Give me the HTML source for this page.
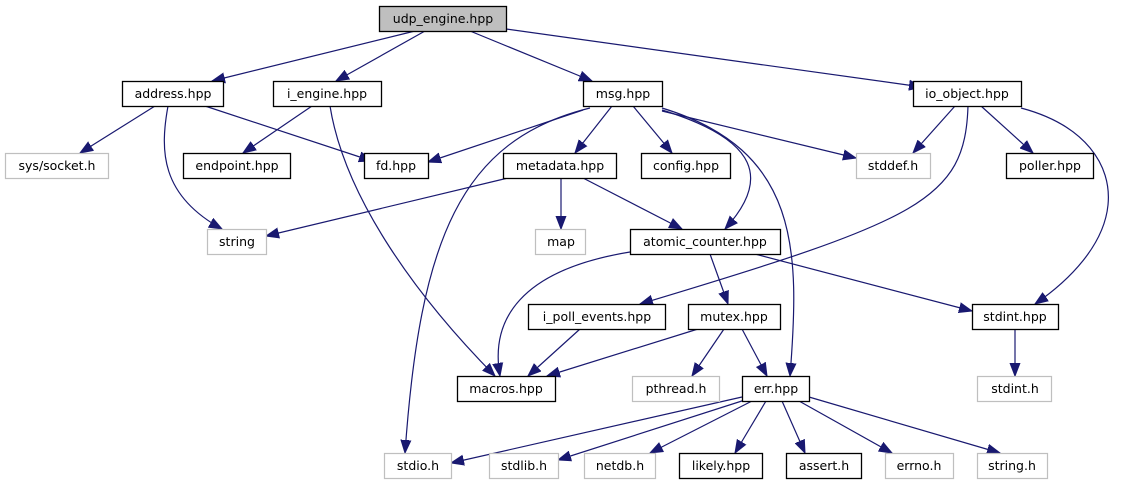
<!DOCTYPE html>
<html><head><meta charset="utf-8"><style>
html,body{margin:0;padding:0;background:#fff;}
svg{display:block;}
text{font-family:"DejaVu Sans","Liberation Sans",sans-serif;font-size:12.5px;fill:#000;}
.e{fill:none;stroke:#191970;stroke-width:1.2;marker-end:url(#a);}
.b{fill:#fff;stroke:#000;stroke-width:1.3;}
.g{fill:#fff;stroke:#bfbfbf;stroke-width:1.2;}
</style></head><body>
<svg width="1121" height="485" viewBox="0 0 1121 485" xmlns="http://www.w3.org/2000/svg">
<defs><marker id="a" markerUnits="userSpaceOnUse" markerWidth="14" markerHeight="12" refX="13" refY="6" orient="auto"><path d="M0,1 L13,6 L0,11 Z" fill="#191970" stroke="#191970"/></marker></defs>
<g>
<path class="e" d="M415,31 L212,81"/>
<path class="e" d="M425,31 L336,81"/>
<path class="e" d="M470,31 L592,81"/>
<path class="e" d="M506,29 L922,87"/>
<path class="e" d="M155,106 L80,153"/>
<path class="e" d="M168,106 C160,150 160,195 222,229"/>
<path class="e" d="M205,106 L372,161"/>
<path class="e" d="M312,106 L243,153"/>
<path class="e" d="M330,106 C345,200 420,300 495,376"/>
<path class="e" d="M583,110 L428,162"/>
<path class="e" d="M590,108 C460,140 420,240 405,453"/>
<path class="e" d="M612,106 L575,153"/>
<path class="e" d="M633,106 L672,153"/>
<path class="e" d="M662,111 L856,158"/>
<path class="e" d="M662,110 C760,140 770,180 725,229"/>
<path class="e" d="M662,108 C800,150 800,250 790,376"/>
<path class="e" d="M508,178 L266,236"/>
<path class="e" d="M561,178 L561,229"/>
<path class="e" d="M583,178 L682,229"/>
<path class="e" d="M955,106 L913,153"/>
<path class="e" d="M981,106 L1033,153"/>
<path class="e" d="M968,106 C965,200 920,220 640,304"/>
<path class="e" d="M1021,108 C1085,125 1112,165 1108,205 C1104,245 1070,280 1035,304"/>
<path class="e" d="M630,252 C520,270 490,320 500,376"/>
<path class="e" d="M710,254 L728,304"/>
<path class="e" d="M755,254 L972,311"/>
<path class="e" d="M580,329 L528,376"/>
<path class="e" d="M698,329 L547,376"/>
<path class="e" d="M724,329 L692,376"/>
<path class="e" d="M742,329 L767,376"/>
<path class="e" d="M1015,329 L1015,376"/>
<path class="e" d="M742,397 L451,463"/>
<path class="e" d="M745,400 L558,460"/>
<path class="e" d="M752,401 L650,453"/>
<path class="e" d="M766,401 L735,453"/>
<path class="e" d="M782,401 L805,453"/>
<path class="e" d="M799,401 L892,453"/>
<path class="e" d="M809,397 L1000,453"/>
</g>
<g text-anchor="middle">
<rect x="379.5" y="6.5" width="127" height="25" fill="#bfbfbf" stroke="#000" stroke-width="1.3"/><text x="443" y="23">udp_engine.hpp</text>
<rect class="b" x="122.5" y="81.5" width="101" height="25"/><text x="173" y="98">address.hpp</text>
<rect class="b" x="273.5" y="81.5" width="108" height="25"/><text x="327" y="98">i_engine.hpp</text>
<rect class="b" x="583.5" y="81.5" width="79" height="25"/><text x="623" y="98">msg.hpp</text>
<rect class="b" x="913.5" y="81.5" width="108" height="25"/><text x="967" y="98">io_object.hpp</text>
<rect class="g" x="5.5" y="153.5" width="103" height="25"/><text x="57" y="170">sys/socket.h</text>
<rect class="b" x="183.5" y="153.5" width="107" height="25"/><text x="237" y="170">endpoint.hpp</text>
<rect class="b" x="364.5" y="153.5" width="64" height="25"/><text x="396" y="170">fd.hpp</text>
<rect class="b" x="503.5" y="153.5" width="113" height="25"/><text x="560" y="170">metadata.hpp</text>
<rect class="b" x="641.5" y="153.5" width="89" height="25"/><text x="686" y="170">config.hpp</text>
<rect class="g" x="856.5" y="153.5" width="74" height="25"/><text x="893" y="170">stddef.h</text>
<rect class="b" x="1006.5" y="153.5" width="87" height="25"/><text x="1050" y="170">poller.hpp</text>
<rect class="g" x="207.5" y="229.5" width="59" height="25"/><text x="237" y="246">string</text>
<rect class="g" x="535.5" y="229.5" width="50" height="25"/><text x="561" y="246">map</text>
<rect class="b" x="630.5" y="229.5" width="150" height="25"/><text x="705" y="246">atomic_counter.hpp</text>
<rect class="b" x="528.5" y="304.5" width="137" height="25"/><text x="597" y="321">i_poll_events.hpp</text>
<rect class="b" x="688.5" y="304.5" width="92" height="25"/><text x="734" y="321">mutex.hpp</text>
<rect class="b" x="972.5" y="304.5" width="86" height="25"/><text x="1015" y="321">stdint.hpp</text>
<rect class="b" x="457.5" y="376.5" width="98" height="25"/><text x="506" y="393">macros.hpp</text>
<rect class="g" x="632.5" y="376.5" width="87" height="25"/><text x="676" y="393">pthread.h</text>
<rect class="b" x="742.5" y="376.5" width="67" height="25"/><text x="776" y="393">err.hpp</text>
<rect class="g" x="977.5" y="376.5" width="74" height="25"/><text x="1015" y="393">stdint.h</text>
<rect class="g" x="384.5" y="453.5" width="67" height="25"/><text x="418" y="470">stdio.h</text>
<rect class="g" x="489.5" y="453.5" width="69" height="25"/><text x="524" y="470">stdlib.h</text>
<rect class="g" x="584.5" y="453.5" width="71" height="25"/><text x="620" y="470">netdb.h</text>
<rect class="b" x="679.5" y="453.5" width="83" height="25"/><text x="721" y="470">likely.hpp</text>
<rect class="b" x="786.5" y="453.5" width="75" height="25"/><text x="824" y="470">assert.h</text>
<rect class="g" x="885.5" y="453.5" width="68" height="25"/><text x="919" y="470">errno.h</text>
<rect class="g" x="977.5" y="453.5" width="70" height="25"/><text x="1012" y="470">string.h</text>
</g>
</svg>
</body></html>
